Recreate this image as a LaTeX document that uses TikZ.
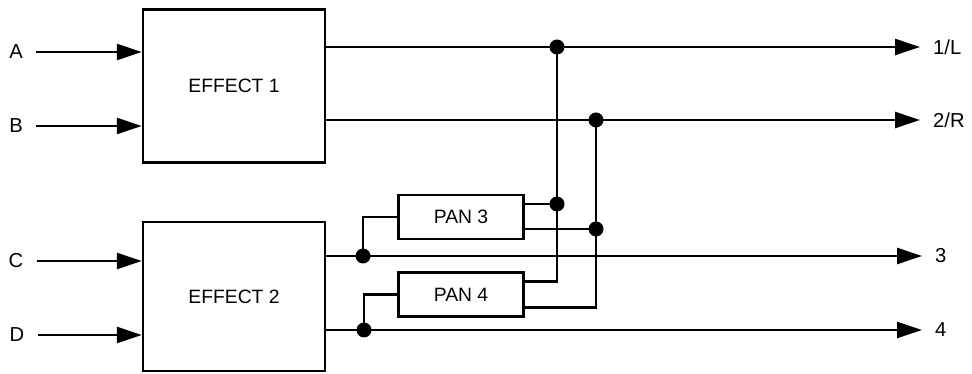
\documentclass[tikz,border=0pt]{standalone}
\usepackage{fontspec}
\setmainfont{Liberation Sans}
\usetikzlibrary{positioning,arrows.meta}

\begin{document}
\begin{tikzpicture}[
  x=0.02cm, y=-0.02cm,
  font=\fontsize{11}{13}\selectfont,
  line width=1.4pt,
  fx/.style={draw, minimum width=3.64cm, minimum height=3.06cm},
  pan/.style={draw, minimum width=2.5cm, minimum height=0.88cm},
  lbl/.style={inner xsep=0.24cm, inner ysep=0pt, font=\fontsize{11.5}{13}\selectfont},
  dot/.style={circle, fill, inner sep=0pt, minimum size=0.3cm},
  arr/.style={-{Triangle[length=0.5cm, width=0.32cm]}},
  node distance=0.6cm]
  \useasboundingbox (0,0) rectangle (972,374);
  \node[fx] (eff1) at (234,86) {EFFECT 1};
  \node[fx, minimum height=2.98cm, below=1.14cm of eff1] (eff2) {EFFECT 2};
  \node[pan] (pan3) at (461,217) {PAN 3};
  \node[pan, below=0.62cm of pan3] (pan4) {PAN 4};
  \node[lbl] (a) at (16,52) {A};
  \node[lbl] (b) at (16,126) {B};
  \node[lbl] (c) at (16,261) {C};
  \node[lbl] (d) at (17,335) {D};
  \node[lbl, anchor=west] (o1) at (920,47) {1/L};
  \node[lbl, anchor=west] (o2) at (920,120) {2/R};
  \node[lbl, anchor=west] (o3) at (922,256) {3};
  \node[lbl, anchor=west] (o4) at (922,330) {4};
  \node[dot] (d3) at (557,204) {};
  \node[dot] (d4) at (596,229) {};
  \node[dot] (d1) at (d3 |- o1) {};
  \node[dot] (d2) at (d4 |- o2) {};
  \node[dot] (d5) at (363,256) {};
  \node[dot] (d6) at (364,330) {};
  \coordinate (p3a) at (pan3.east |- d3);
  \coordinate (p3b) at (pan3.east |- d4);
  \coordinate (p4a) at ([yshift=0.26cm]pan4.east);
  \coordinate (p4b) at ([yshift=-0.26cm]pan4.east);
  \draw[arr] (a) -- (eff1.west |- a);
  \draw[arr] (b) -- (eff1.west |- b);
  \draw[arr] (c) -- (eff2.west |- c);
  \draw[arr] (d) -- (eff2.west |- d);
  \draw[arr] (eff1.east |- o1) -- (o1.west);
  \draw[arr] (eff1.east |- o2) -- (o2.west);
  \draw[arr] (eff2.east |- o3) -- (o3.west);
  \draw[arr] (eff2.east |- o4) -- (o4.west);
  \draw (d5.center) |- (pan3.west);
  \draw (d6.center) |- (pan4.west);
  \draw (p3a) -- (d3.center) -- (d1.center);
  \draw (p3b) -- (d4.center) -- (d2.center);
  \draw (p4a) -| (d3.center);
  \draw (p4b) -| (d4.center);
\end{tikzpicture}
\end{document}
